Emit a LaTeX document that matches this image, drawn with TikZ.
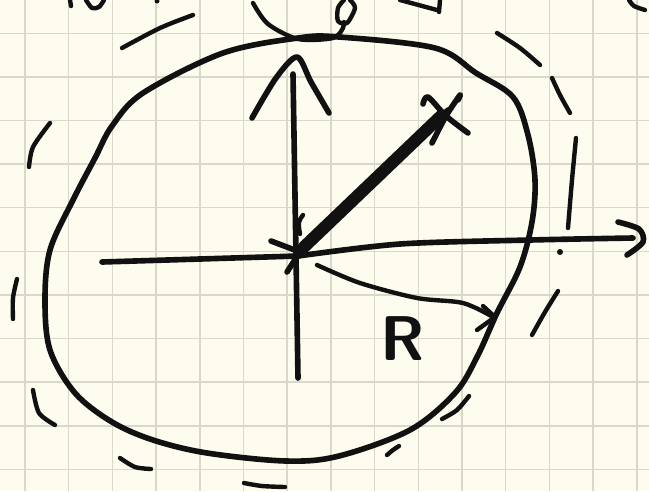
\documentclass[tikz,border=0pt]{standalone}
\usepackage{xcolor}
\usepackage{tikz}
\usetikzlibrary{calc,positioning}
\definecolor{PaperCream}{HTML}{FDFCEE}
\definecolor{GridGray}{HTML}{DAD8CA}
\definecolor{InkBlack}{HTML}{111111}
\tikzset{
  pen/.style={InkBlack,line width=2.5pt,line cap=round,line join=round},
  boldpen/.style={pen,line width=3.2pt},
  gridline/.style={GridGray,line width=0.9pt}
}

\begin{document}
\begin{tikzpicture}[x=0.02cm,y=-0.02cm]
  % Paper and grid
  \useasboundingbox (0,0) rectangle (649,491);
  \fill[PaperCream] (0,0) rectangle (649,491);
  \foreach \i in {0,...,14}
    \draw[gridline] ({25+43.7*\i},0) -- ++(0,491);
  \foreach \j in {0,...,10}
    \draw[gridline] (0,{33.3+43.6*\j}) -- ++(649,0);

  % Named points
  \coordinate (origin) at (298,256);
  \coordinate (tip) at (448,110);

  % Cut-off strokes along the top edge
  \draw[pen] (70,0) -- (71,6);
  \draw[pen] plot[smooth] coordinates {(86,0) (92,8) (99,7) (104,0)};
  \fill[InkBlack] (157,1) circle (2.5);
  \draw[pen] plot[smooth] coordinates {(253,3) (268,24) (298,39) (333,38) (343,28) (344,22)};
  \draw[pen] plot[smooth] coordinates {(350,0) (355,8) (347,23) (338,21) (338,8) (344,0)};
  \draw[pen] (400,0) -- (437,10);
  \draw[pen] (440,0) -- (439,12);
  \draw[pen] plot[smooth] coordinates {(629,0) (634,6) (645,10)};

  % Circle
  \draw[boldpen] plot[smooth cycle,tension=0.55] coordinates {
    (298,38) (339,37) (435,48) (476,73) (513,97) (528,135) (535,180)
    (532,222) (520,267) (497,313) (477,357) (455,393) (410,430)
    (339,456) (286,461) (207,453) (153,440) (112,422) (75,393)
    (50,350) (45,300) (50,250) (73,200) (95,158) (112,126) (143,93) (223,53)};

  % Dashed outer ring
  \foreach \a/\b/\c in {
      {(122,48)}/{(160,28)}/{(193,15)},
      {(497,33)}/{(520,48)}/{(540,65)},
      {(552,78)}/{(560,95)}/{(570,113)},
      {(576,138)}/{(572,180)}/{(568,228)},
      {(558,291)}/{(545,312)}/{(532,335)},
      {(469,396)}/{(457,410)}/{(442,419)},
      {(399,446)}/{(393,450)}/{(387,455)},
      {(285,487)}/{(262,486)}/{(244,483)},
      {(151,469)}/{(135,467)}/{(120,458)},
      {(55,425)}/{(39,413)}/{(33,390)},
      {(13,319)}/{(13,298)}/{(17,279)},
      {(29,167)}/{(33,147)}/{(50,123)}}
    \draw[pen] plot[smooth] coordinates {\a \b \c};
  \fill[InkBlack] (560,252) circle (3);

  % Vertical axis
  \draw[boldpen] (298,378) -- (293,74);
  \draw[boldpen] plot[smooth] coordinates {(252,118) (276,78) (297,57) (311,82) (329,113)};

  % Horizontal axis
  \draw[boldpen] (102,262) -- (origin);
  \draw[boldpen] plot[smooth] coordinates {(origin) (400,244) (530,240) (633,238)};
  \draw[boldpen] plot[smooth] coordinates {(618,222) (639,229) (643,242) (627,255)};

  % Radius vector
  \draw[pen,line width=7pt] ($(origin)+(6,-9)$) -- ($(tip)+(-7,6)$);
  \draw[boldpen] ($(origin)+(-2,2)$) -- (tip);
  \draw[boldpen] (271,241) -- (300,252);
  \draw[boldpen] (287,272) -- (300,252);
  \draw[pen] (303,215) .. controls (298,222) .. (300,234);
  \draw[boldpen] plot[smooth] coordinates {(423,104) (428,97) (446,116) (468,133)};
  \draw[boldpen] plot[smooth] coordinates {(458,100) (460,95) (446,116) (432,143)};

  % Radius arrow and label
  \draw[pen] plot[smooth] coordinates {(317,265) (360,283) (417,298) (463,303) (493,317)};
  \draw[pen] (483,306) -- (495,317) -- (477,330);
  \node[InkBlack,font=\fontsize{36}{36}\selectfont\sffamily\bfseries] (rlabel) at (403,339) {R};
\end{tikzpicture}
\end{document}
